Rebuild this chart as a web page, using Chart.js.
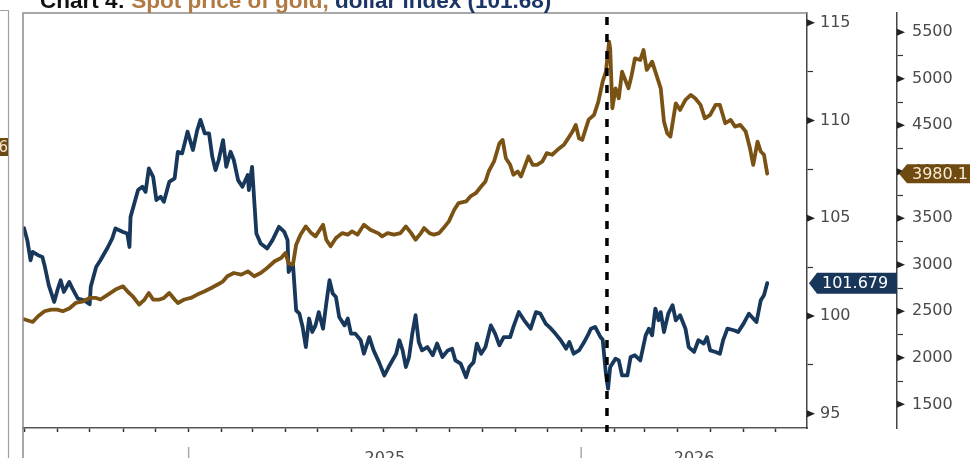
<!DOCTYPE html>
<html>
<head>
<meta charset="utf-8">
<script src="https://cdn.jsdelivr.net/npm/chart.js@4.4.1/dist/chart.umd.min.js"></script>
<style>
  html, body { margin: 0; padding: 0; background: #fff; }
  canvas { display: block; }
</style>
</head>
<body>
<canvas id="mycanvas" width="970" height="458"></canvas>
<script>
// x values are days counted from 1 Jan 2025
var usdDays = [-153,-150,-147,-145,-140,-136,-134,-130,-125,-122,-119,-116,-111,-108,-103,-97,-92,-91,-86,-82,
  -75,-71,-68,-61,-57,-55,-54,-47,-43,-40,-37,-33,-30,-26,-23,-18,-13,-10,-6,-1,
  4,8,11,15,19,22,25,28,32,35,39,42,46,50,55,56,59,63,67,73,
  78,84,89,92,93,97,100,103,106,109,112,115,118,121,125,128,131,134,137,140,
  145,148,151,155,160,163,168,172,177,182,186,193,196,199,202,205,208,211,214,217,
  222,227,231,236,241,245,248,253,258,261,265,268,272,276,281,285,289,293,299,302,
  307,312,318,323,327,332,337,341,346,351,354,358,363,367,372,374,378,383,385,388,
  390,392,397,400,403,408,411,415,420,425,428,431,434,437,439,442,446,450,453,457,
  462,465,470,474,479,482,485,490,494,497,501,507,511,516,521,525,528,532,535,538];
var usdIndex = [104.49,103.88,102.85,103.28,103.11,103.02,102.60,101.57,100.72,101.32,101.83,101.23,101.74,101.40,100.89,100.80,100.60,101.49,102.51,102.85,
  103.53,103.97,104.48,104.30,104.22,103.53,105.07,106.44,106.61,106.35,107.55,107.12,105.93,106.10,105.84,106.86,107.04,108.40,108.32,109.43,
  108.49,109.51,110.03,109.34,109.34,108.15,107.46,107.98,109.00,107.63,108.40,107.98,106.95,106.61,107.21,106.44,107.63,104.22,103.71,103.45,
  103.88,104.56,104.30,103.88,102.25,102.68,100.29,100.12,99.44,98.41,99.87,99.18,99.52,100.20,99.35,100.64,101.83,101.15,100.97,99.95,
  99.52,99.87,99.10,99.10,98.76,98.07,98.92,98.24,97.64,96.96,97.39,98.07,98.76,98.24,97.39,97.90,99.10,100.04,98.67,98.24,
  98.41,97.99,98.59,97.90,98.24,98.33,97.73,97.56,96.87,97.39,97.64,98.59,98.07,98.41,99.52,99.10,98.50,98.92,98.92,99.44,
  100.20,99.78,99.35,100.20,100.12,99.61,99.35,99.10,98.76,98.33,98.67,98.07,98.24,98.59,99.10,99.35,99.44,98.92,98.80,97.05,
  96.28,97.39,97.82,97.73,96.96,96.96,97.90,97.99,97.73,99.01,99.35,99.01,100.38,99.78,100.20,99.18,100.12,100.55,99.78,100.04,
  99.35,98.41,98.16,98.76,98.59,98.92,98.24,98.16,98.07,98.76,99.35,99.27,99.18,99.61,100.12,99.87,99.69,100.80,101.06,101.679];

var goldDays = [-153,-145,-140,-134,-128,-122,-117,-111,-105,-98,-92,-86,-82,-75,-68,-61,-57,-52,-46,-41,
  -37,-33,-27,-23,-18,-13,-10,-4,2,8,15,21,27,32,36,42,49,55,61,67,
  73,80,86,90,93,97,100,104,109,114,118,125,128,132,137,143,148,152,157,163,
  169,176,180,185,191,197,202,207,211,216,219,224,228,233,237,242,247,251,258,262,
  267,272,276,279,284,289,292,295,299,302,306,309,312,316,320,324,329,333,338,343,
  349,352,357,360,363,366,369,372,377,381,385,388,391,392,394,397,400,403,406,409,
  412,415,420,423,426,431,436,439,442,445,448,453,457,462,467,471,476,480,485,490,
  494,499,504,508,513,518,522,525,529,532,535,538];
var goldPrice = [2415,2386,2447,2501,2519,2519,2501,2530,2590,2608,2644,2644,2627,2680,2734,2769,2716,2662,2573,2627,
  2697,2627,2627,2644,2697,2627,2590,2627,2644,2680,2716,2751,2788,2823,2877,2912,2895,2930,2877,2912,
  2966,3038,3073,3127,3016,3002,3217,3324,3413,3341,3306,3431,3270,3199,3288,3341,3324,3360,3324,3431,
  3378,3341,3306,3341,3324,3341,3413,3341,3270,3341,3395,3341,3324,3341,3395,3467,3592,3663,3681,3735,
  3770,3842,3896,4003,4111,4307,4343,4146,4075,3968,4003,3950,4039,4164,4075,4075,4111,4200,4183,4236,
  4290,4343,4433,4504,4361,4343,4454,4561,4612,4754,4969,5076,5398,5326,4683,4897,4790,5076,4987,4897,
  5041,5219,5202,5309,5095,5184,5004,4897,4540,4414,4379,4736,4665,4773,4826,4790,4719,4575,4612,4719,
  4719,4522,4558,4486,4504,4433,4253,4075,4325,4218,4183,3980.1];

var usdTicks = [95, 100, 105, 110, 115];
var usdMinor = [97.5, 102.5, 107.5, 112.5];
var goldTicks = [1500, 2000, 2500, 3000, 3500, 4000, 4500, 5000, 5500];
var goldMinor = [1750, 2250, 2750, 3250, 3750, 4250, 4750, 5250];
var monthTicks = [-153,-122,-92,-61,-31,0,31,59,90,120,151,181,212,243,273,304,334,365,396,424,455,485,516,546];
var yearStarts = [0, 365];
var yearLabels = ['2025', '2026'];
var markerDay = 389;
var usdLast = 101.679;
var goldLast = 3980.1;
var titleParts = [['Chart 4: ', '#111111'], ['Spot price of gold, ', '#b07a42'], ['dollar index (101.68)', '#1a3566']];

Chart.defaults.font.family = "'DejaVu Sans', sans-serif";

function toPoints(xs, ys) {
  return xs.map(function(d, i) { return {x: d, y: ys[i]}; });
}

function tickList(major, minor) {
  return major.concat(minor).sort(function(a, b) { return a - b; }).map(function(v) { return {value: v}; });
}

// fixed axis size, no extra room for the end labels
function fixWidth(w) {
  return function(axis) {
    axis.width = w;
    axis.paddingTop = 0;
    axis.paddingBottom = 0;
  };
}

var deco = {
  id: 'deco',
  afterDatasetsDraw: function(chart) {
    var ctx = chart.ctx, area = chart.chartArea;
    var px = chart.scales.x.getPixelForValue(markerDay);
    ctx.save();
    ctx.strokeStyle = '#000';
    ctx.lineWidth = 3.5;
    ctx.setLineDash([8, 9]);
    ctx.beginPath();
    ctx.moveTo(px, area.top + 4);
    ctx.lineTo(px, area.bottom + 4);
    ctx.stroke();
    ctx.restore();
  },
  afterDraw: function(chart) {
    var ctx = chart.ctx, area = chart.chartArea;
    var xs = chart.scales.x, yu = chart.scales.yUsd, yg = chart.scales.yGold;
    ctx.save();

    // frames
    ctx.strokeStyle = '#a0a0a0';
    ctx.lineWidth = 1.2;
    ctx.beginPath();
    ctx.moveTo(0, 10.5); ctx.lineTo(8.5, 10.5); ctx.lineTo(8.5, 458);
    ctx.stroke();
    ctx.strokeStyle = '#8c8c8c';
    ctx.lineWidth = 1.5;
    ctx.beginPath();
    ctx.moveTo(area.left, 458); ctx.lineTo(area.left, area.top); ctx.lineTo(area.right, area.top);
    ctx.stroke();

    // leftover tag from neighbouring panel
    ctx.fillStyle = '#6e4a10';
    ctx.fillRect(0, 138, 8, 18);
    ctx.fillStyle = '#f3e6cf';
    ctx.font = '15px "DejaVu Sans"';
    ctx.textAlign = 'right';
    ctx.textBaseline = 'middle';
    ctx.fillText('6', 8, 148);

    // title
    ctx.font = 'bold 22.5px "Liberation Sans"';
    ctx.textAlign = 'left';
    ctx.textBaseline = 'alphabetic';
    var tx = 40;
    titleParts.forEach(function(p) {
      ctx.fillStyle = p[1];
      ctx.fillText(p[0], tx, 7.5);
      tx += ctx.measureText(p[0]).width;
    });

    // major tick arrows
    ctx.fillStyle = '#222';
    function tri(ax, py) {
      ctx.beginPath();
      ctx.moveTo(ax, py - 3.5);
      ctx.lineTo(ax + 8, py);
      ctx.lineTo(ax, py + 3.5);
      ctx.closePath();
      ctx.fill();
    }
    usdTicks.forEach(function(v) { tri(yu.left, yu.getPixelForValue(v)); });
    goldTicks.forEach(function(v) { tri(yg.left, yg.getPixelForValue(v)); });

    // last value tags
    function tag(ax, right, py, h, fill, text, color) {
      ctx.fillStyle = fill;
      ctx.beginPath();
      ctx.moveTo(ax + 2, py);
      ctx.lineTo(ax + 10, py - h / 2);
      ctx.lineTo(right, py - h / 2);
      ctx.lineTo(right, py + h / 2);
      ctx.lineTo(ax + 10, py + h / 2);
      ctx.closePath();
      ctx.fill();
      ctx.fillStyle = color;
      ctx.font = '16px "DejaVu Sans"';
      ctx.textAlign = 'left';
      ctx.textBaseline = 'middle';
      ctx.fillText(text, ax + 15, py + 1);
    }
    tag(yu.left, yu.right, yu.getPixelForValue(usdLast), 21, '#173659', String(usdLast), '#ffffff');
    tag(yg.left, yg.right + 10, yg.getPixelForValue(goldLast), 19, '#6e4a10', String(goldLast), '#f6ead6');

    // year separators and labels
    ctx.font = '16px "DejaVu Sans"';
    ctx.textAlign = 'center';
    ctx.textBaseline = 'alphabetic';
    yearStarts.forEach(function(d, i) {
      var px = xs.getPixelForValue(d);
      ctx.strokeStyle = '#a8a8a8';
      ctx.lineWidth = 1.5;
      ctx.beginPath();
      ctx.moveTo(px, 447); ctx.lineTo(px, 458);
      ctx.stroke();
      var a = Math.max(d, xs.min), b = Math.min(d + 365, xs.max);
      ctx.fillStyle = '#4a4a4a';
      ctx.fillText(yearLabels[i], (xs.getPixelForValue(a) + xs.getPixelForValue(b)) / 2, 463);
    });
    ctx.restore();
  }
};

var ctx = document.getElementById('mycanvas');

var Graph = new Chart(ctx, {
  type: 'line',
  data: {
    datasets: [
      {
        label: 'Spot price of gold',
        data: toPoints(goldDays, goldPrice),
        xAxisID: 'x',
        yAxisID: 'yGold',
        borderColor: '#7a5214',
        borderWidth: 3.8,
        order: 0
      },
      {
        label: 'Dollar index',
        data: toPoints(usdDays, usdIndex),
        xAxisID: 'x',
        yAxisID: 'yUsd',
        borderColor: '#17375b',
        borderWidth: 3.8,
        order: 1
      }
    ]
  },
  options: {
    responsive: false,
    animation: false,
    devicePixelRatio: 1,
    layout: { padding: { top: 13, left: 23, right: 0, bottom: 0 } },
    elements: {
      point: { radius: 0 },
      line: { tension: 0, borderJoinStyle: 'round', borderCapStyle: 'round' }
    },
    plugins: { legend: { display: false }, tooltip: { enabled: false } },
    scales: {
      x: {
        type: 'linear',
        min: -154,
        max: 575,
        afterBuildTicks: function(axis) { axis.ticks = monthTicks.map(function(v) { return {value: v}; }); },
        afterFit: function(axis) { axis.height = 30; axis.paddingLeft = 0; axis.paddingRight = 0; },
        ticks: { display: false },
        grid: { drawOnChartArea: false, drawTicks: true, tickLength: 4, tickWidth: 1.5, tickColor: '#333' },
        border: { display: true, color: '#555', width: 1.5 }
      },
      yUsd: {
        type: 'linear',
        position: 'right',
        weight: 0,
        min: 94.27,
        max: 115.5,
        afterBuildTicks: function(axis) { axis.ticks = tickList(usdTicks, usdMinor); },
        afterFit: fixWidth(90),
        ticks: {
          autoSkip: false,
          padding: 7,
          color: '#4a4a4a',
          font: { size: 16 },
          callback: function(v) { return usdTicks.indexOf(v) >= 0 ? String(v) : ''; }
        },
        grid: {
          drawOnChartArea: false,
          tickLength: 6,
          tickWidth: 1.2,
          tickColor: function(c) { return (c.tick && usdTicks.indexOf(c.tick.value) >= 0) ? 'rgba(0,0,0,0)' : '#333'; }
        },
        border: { display: true, color: '#444', width: 1.5 }
      },
      yGold: {
        type: 'linear',
        position: 'right',
        weight: 1,
        min: 1246,
        max: 5707,
        afterBuildTicks: function(axis) { axis.ticks = tickList(goldTicks, goldMinor); },
        afterFit: fixWidth(73),
        ticks: {
          autoSkip: false,
          padding: 9,
          color: '#4a4a4a',
          font: { size: 16 },
          callback: function(v) { return goldTicks.indexOf(v) >= 0 ? String(v) : ''; }
        },
        grid: {
          drawOnChartArea: false,
          tickLength: 6,
          tickWidth: 1.2,
          tickColor: function(c) { return (c.tick && goldTicks.indexOf(c.tick.value) >= 0) ? 'rgba(0,0,0,0)' : '#333'; }
        },
        border: { display: true, color: '#444', width: 1.5 }
      }
    }
  },
  plugins: [deco]
});
</script>
</body>
</html>
